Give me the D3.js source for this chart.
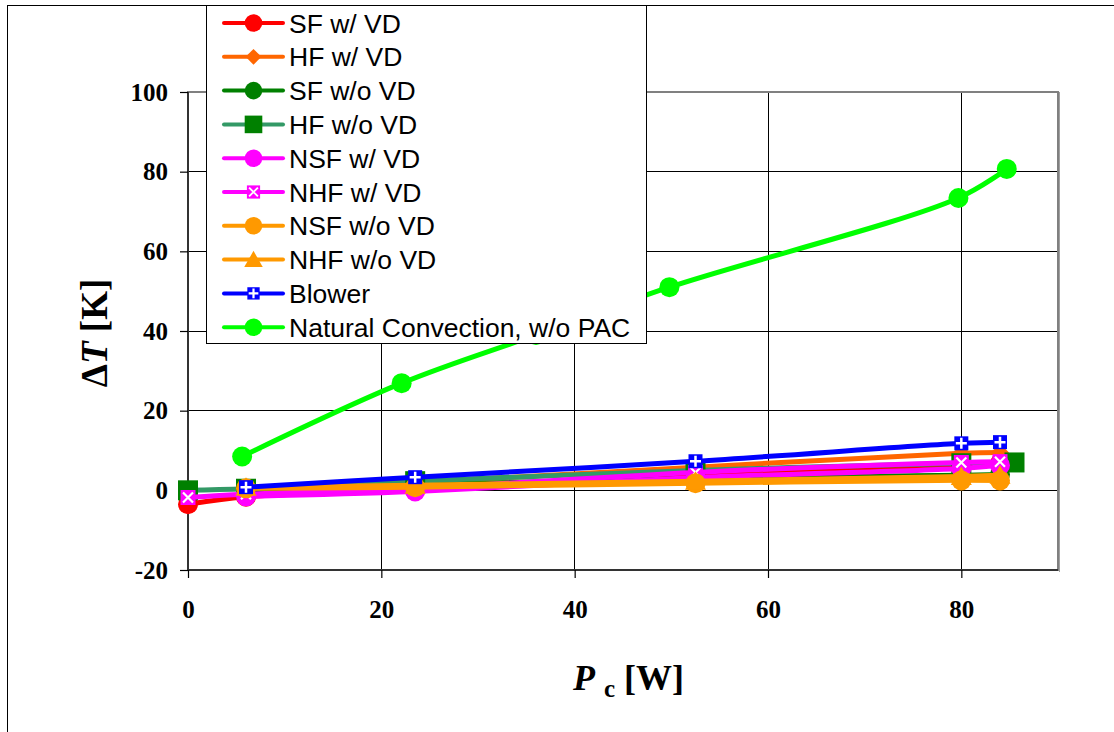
<!DOCTYPE html>
<html><head><meta charset="utf-8">
<script src="https://cdn.jsdelivr.net/npm/d3@7"></script>
<style>html,body{margin:0;padding:0;background:#fff;}svg{display:block;}</style>
</head><body>
<svg id="chart" width="1114" height="732"></svg>
<script>
// ---- data ----
const seriesNames = ["SF w/ VD","HF w/ VD","SF w/o VD","HF w/o VD","NSF w/ VD","NHF w/ VD","NSF w/o VD","NHF w/o VD","Blower","Natural Convection, w/o PAC"];
const sfWithVD   = [[0,-3.5],[6,-1.6],[23.5,0.0],[52.5,4.0],[80,6.3],[84,6.8]];
const hfWithVD   = [[6,0.6],[23.5,2.0],[52.5,5.8],[80,9.3],[84,9.5]];
const sfWithoutVD= [[6,0.0],[23.5,1.4],[52.5,3.0],[80,3.8],[84,4.0]];
const hfWithoutVD= [[0,0.0],[6,0.4],[23.5,2.3],[52.5,5.0],[80,6.8],[85.5,7.0]];
const nsfWithVD  = [[6,-1.5],[23.5,-0.3],[52.5,3.2],[80,5.5],[84,6.3]];
const nhfWithVD  = [[0,-1.8],[6,-1.0],[23.5,0.5],[52.5,4.5],[80,7.0],[84,7.2]];
const nsfWithoutVD=[[6,0.5],[23.5,0.8],[52.5,1.8],[80,2.5],[84,2.5]];
const nhfWithoutVD=[[6,0.8],[23.5,1.3],[52.5,2.3],[80,3.5],[84,3.8]];
const blower     = [[6,0.8],[23.5,3.3],[52.5,7.3],[80,11.8],[84,12.1]];
const naturalConv= [[5.6,8.5],[22.1,26.9],[36,39],[49.8,51.0],[79.7,73.4],[84.7,80.7]];
const xTicks = [0,20,40,60,80];
const yTicks = [-20,0,20,40,60,80,100];

const seriesData = [sfWithVD,hfWithVD,sfWithoutVD,hfWithoutVD,nsfWithVD,nhfWithVD,nsfWithoutVD,nhfWithoutVD,blower,naturalConv];
const lineColors  = ["#FF0000","#FF6600","#008000","#339966","#FF00FF","#FF00FF","#FF9900","#FF9900","#0000FF","#00FF00"];
const markColors  = ["#FF0000","#FF6600","#008000","#008000","#FF00FF","#FF00FF","#FF9900","#FF9900","#0000FF","#00FF00"];
const markShapes  = ["circle","diamond","circle","square","circle","x","circle","triangle","plus","circle"];

// ---- layout ----
const svg = d3.select("#chart");
const L = 188, R = 1058, T = 92, B = 570;
const x = d3.scaleLinear().domain([0,90]).range([L,R]);
const y = d3.scaleLinear().domain([-20,100]).range([B,T]);

// outer frame
svg.append("rect").attr("x",7.5).attr("y",5.5).attr("width",1120).attr("height",740)
  .attr("fill","#fff").attr("stroke","#000").attr("stroke-width",1);

// grid
const grid = svg.append("g");
grid.selectAll(".hg").data(yTicks.filter(d=>d>-20 && d<100)).enter().append("line")
  .attr("x1",L).attr("x2",R).attr("y1",d=>y(d)).attr("y2",d=>y(d))
  .attr("stroke","#000").attr("stroke-width",1).attr("shape-rendering","crispEdges");
grid.selectAll(".vg").data(xTicks.filter(d=>d>0)).enter().append("line")
  .attr("x1",d=>x(d)).attr("x2",d=>x(d)).attr("y1",T).attr("y2",B)
  .attr("stroke","#000").attr("stroke-width",1).attr("shape-rendering","crispEdges");
// plot border
svg.append("rect").attr("x",L).attr("y",T).attr("width",R-L).attr("height",B-T)
  .attr("fill","none").attr("stroke","#808080").attr("stroke-width",2);
svg.append("line").attr("x1",R+1.5).attr("x2",R+1.5).attr("y1",T).attr("y2",B+2).attr("stroke","#a0a0a0").attr("stroke-width",1);

// axes
const fmt = d => String(d);
const yAxis = d3.axisLeft(y).tickValues(yTicks).tickFormat(fmt).tickSize(8).tickPadding(12);
const gy = svg.append("g").attr("transform",`translate(${L},0)`).call(yAxis);
const xAxis = d3.axisBottom(x).tickValues(xTicks).tickFormat(fmt).tickSize(8).tickPadding(22);
const gx = svg.append("g").attr("transform",`translate(0,${B})`).call(xAxis);
[gy,gx].forEach(g=>{
  g.select(".domain").attr("stroke","#333").attr("stroke-width",2);
  g.selectAll(".tick line").attr("stroke","#000").attr("stroke-width",1.2);
  g.selectAll(".tick text").attr("font-family","'Liberation Serif','Times New Roman',serif")
   .attr("font-weight","bold").attr("font-size",25).attr("fill","#000");
});
gy.select(".domain").attr("d",`M-0,${B}V${T}`);
gx.select(".domain").attr("d",`M${L},0H${R}`);

// series
function drawMarker(g, shape, cx, cy, color, s){
  s = s || 1;
  if(shape==="circle"){
    g.append("circle").attr("cx",cx).attr("cy",cy).attr("r",10*s).attr("fill",color);
  } else if(shape==="square"){
    const h=10*s; g.append("rect").attr("x",cx-h).attr("y",cy-h).attr("width",2*h).attr("height",2*h).attr("fill",color);
  } else if(shape==="diamond"){
    const h=9*s; g.append("path").attr("d",`M${cx},${cy-h}L${cx+h},${cy}L${cx},${cy+h}L${cx-h},${cy}Z`).attr("fill",color);
  } else if(shape==="triangle"){
    const h=10*s; g.append("path").attr("d",`M${cx},${cy-h}L${cx+h*1.05},${cy+h*0.85}L${cx-h*1.05},${cy+h*0.85}Z`).attr("fill",color);
  } else if(shape==="x"){
    const h=7.5*s; g.append("rect").attr("x",cx-h).attr("y",cy-h).attr("width",2*h).attr("height",2*h).attr("fill",color);
    const k=5*s;
    g.append("path").attr("d",`M${cx-k},${cy-k}L${cx+k},${cy+k}M${cx+k},${cy-k}L${cx-k},${cy+k}`)
      .attr("stroke","#fff").attr("stroke-width",2.2*s);
  } else if(shape==="plus"){
    const h=7*s; g.append("rect").attr("x",cx-h).attr("y",cy-h).attr("width",2*h).attr("height",2*h).attr("fill",color);
    const k=5.5*s;
    g.append("path").attr("d",`M${cx-k},${cy}L${cx+k},${cy}M${cx},${cy-k}L${cx},${cy+k}`)
      .attr("stroke","#fff").attr("stroke-width",2.5*s);
  }
}
const line = d3.line().x(d=>x(d[0])).y(d=>y(d[1])).curve(d3.curveCatmullRom.alpha(0.5));
const plot = svg.append("g");
seriesData.forEach((data,i)=>{
  const g = plot.append("g");
  g.append("path").datum(data).attr("d",line).attr("fill","none")
    .attr("stroke",lineColors[i]).attr("stroke-width",5).attr("stroke-linejoin","round").attr("stroke-linecap","round");
  data.forEach(d=>drawMarker(g, markShapes[i], x(d[0]), y(d[1]), markColors[i]));
});

// axis titles
svg.append("text").attr("transform","translate(107,333) rotate(-90)")
  .attr("text-anchor","middle").attr("font-family","'Liberation Serif','Times New Roman',serif")
  .attr("font-weight","bold").attr("font-size",37)
  .html('<tspan>Δ</tspan><tspan font-style="italic">T</tspan><tspan> [K]</tspan>');
const xt = svg.append("text").attr("x",573).attr("y",690)
  .attr("font-family","'Liberation Serif','Times New Roman',serif").attr("font-weight","bold").attr("font-size",36);
xt.append("tspan").attr("font-style","italic").text("P");
xt.append("tspan").attr("font-size",25).attr("dx",9).attr("dy",7).text("c");
xt.append("tspan").attr("dy",-7).attr("dx",0).text(" [W]");

// legend
const lg = svg.append("g");
lg.append("rect").attr("x",206.5).attr("y",5.5).attr("width",440).attr("height",338)
  .attr("fill","#fff").attr("stroke","#000").attr("stroke-width",1);
seriesNames.forEach((name,i)=>{
  const cy = 23 + i*33.8;
  lg.append("line").attr("x1",224).attr("x2",283).attr("y1",cy).attr("y2",cy)
    .attr("stroke",lineColors[i]).attr("stroke-width",4).attr("stroke-linecap","round");
  drawMarker(lg, markShapes[i], 253.5, cy, markColors[i], 0.88);
  lg.append("text").attr("x",289).attr("y",cy).attr("dy","0.36em")
    .attr("font-family","'Liberation Sans',Arial,sans-serif").attr("font-size",26.5).attr("fill","#000").text(name);
});
</script>
</body></html>
